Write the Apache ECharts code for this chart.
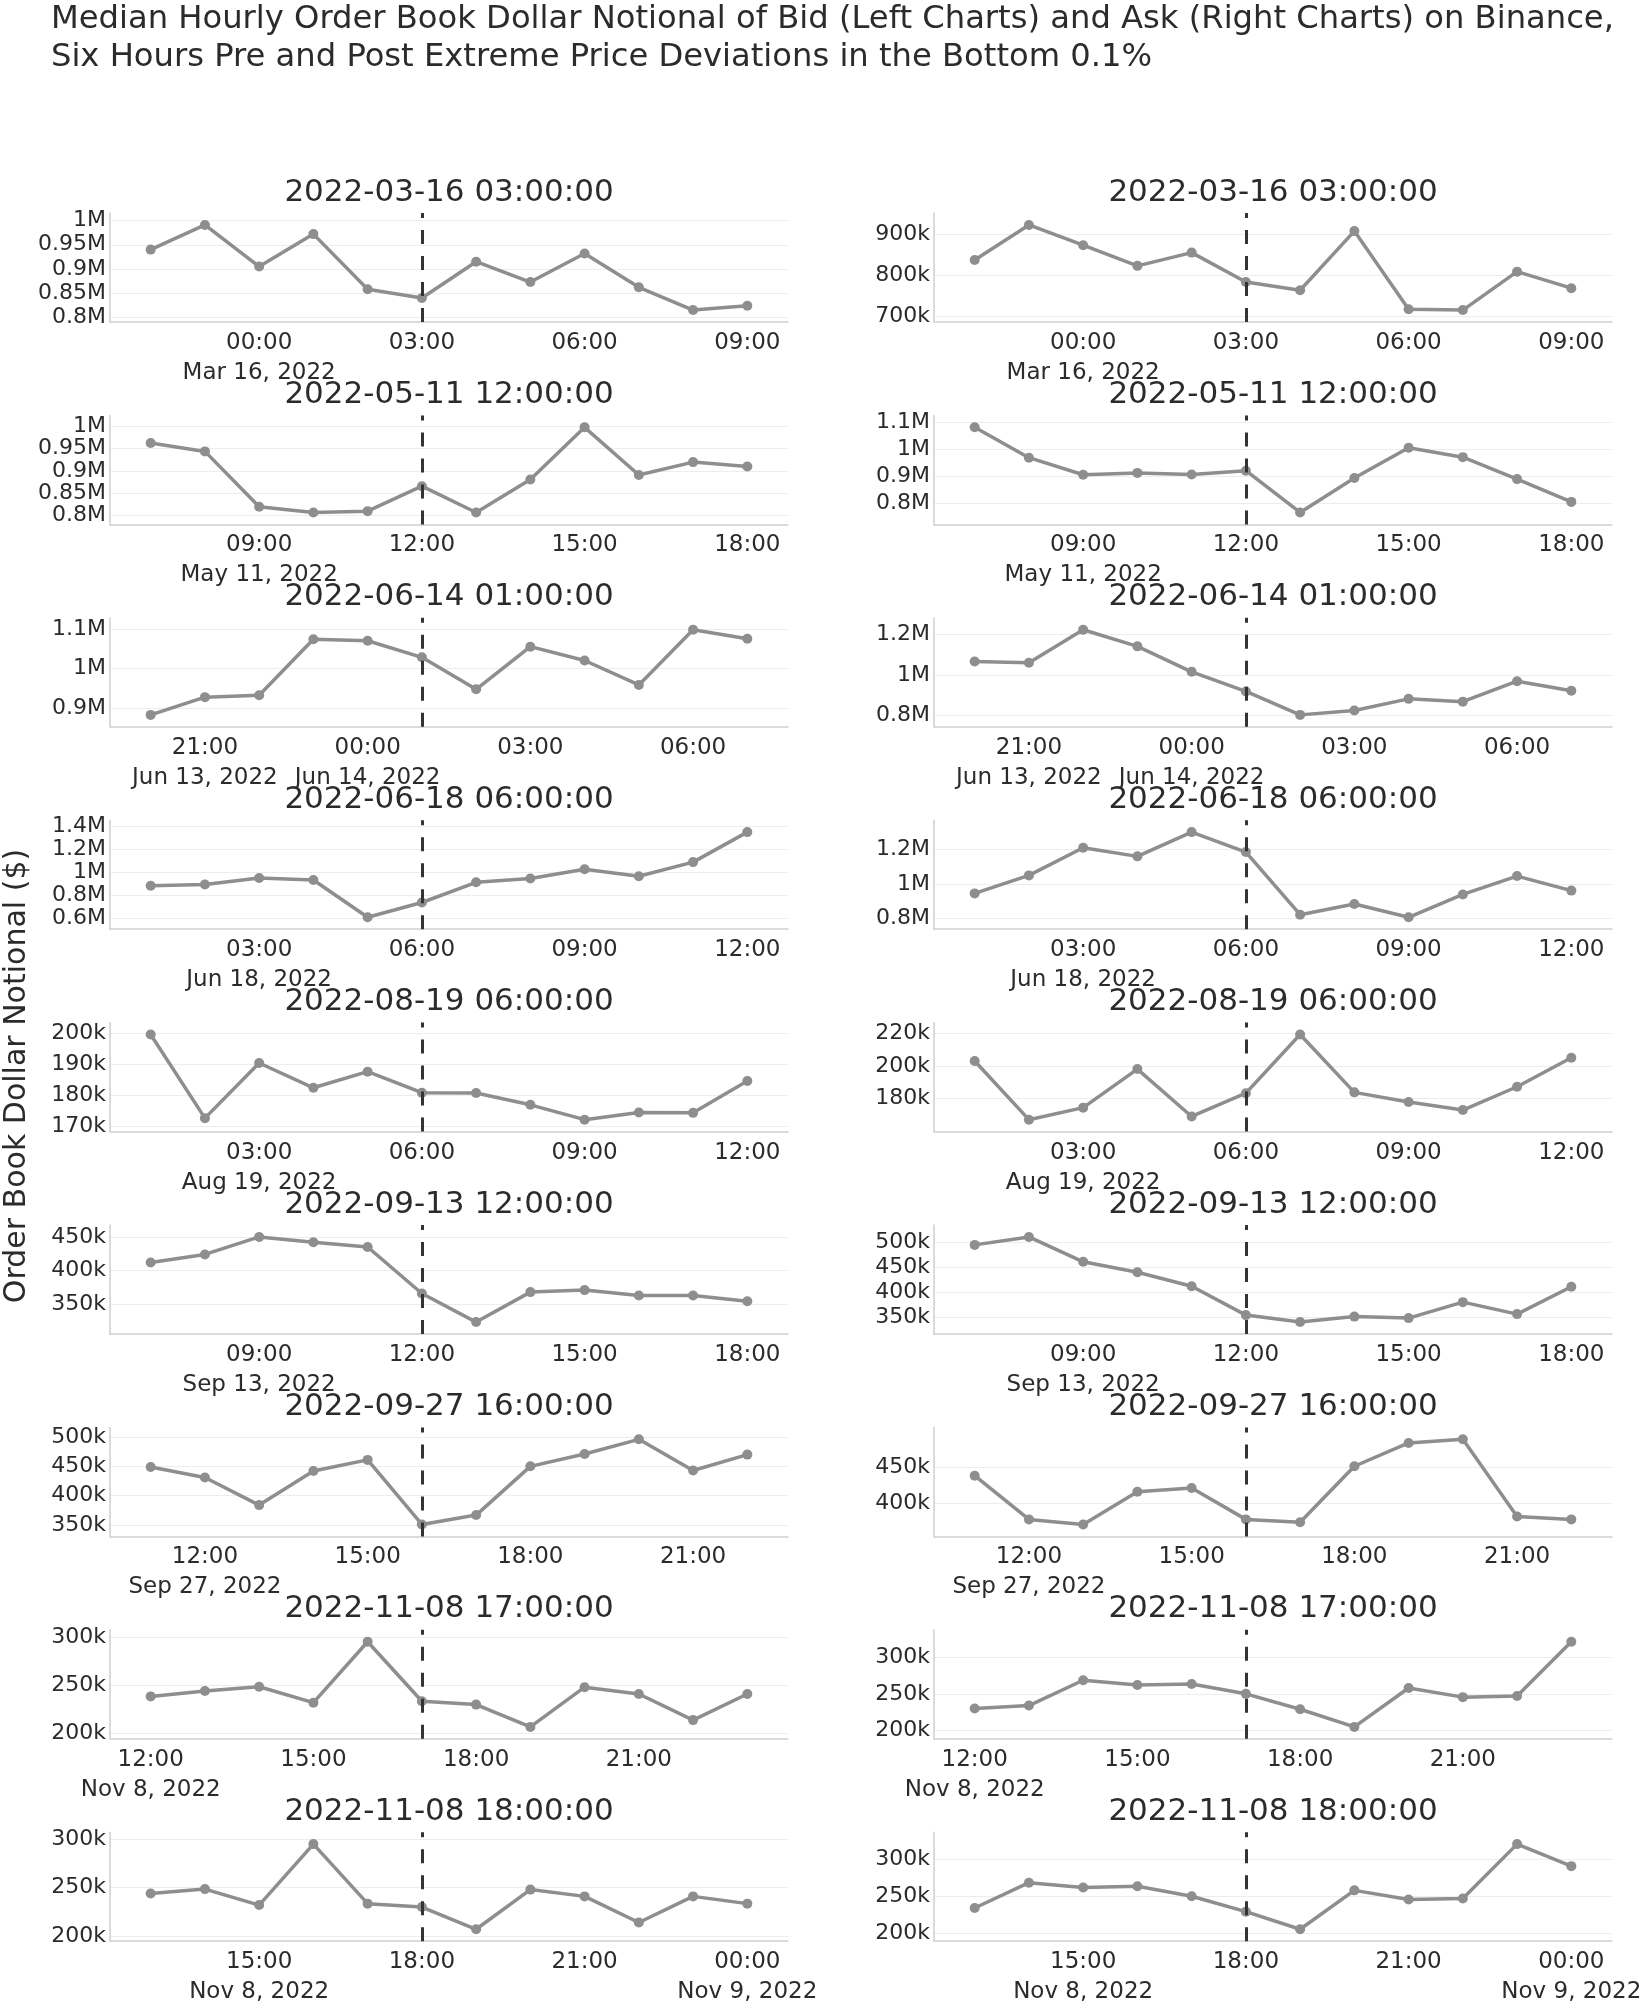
<!DOCTYPE html>
<html>
<head>
<meta charset="utf-8">
<script src="https://cdn.jsdelivr.net/npm/echarts@6/dist/echarts.min.js"></script>
<style>
html,body{margin:0;padding:0;background:#ffffff;}
#chart{width:1648px;height:2008px;}
</style>
</head>
<body>
<div id="chart"></div>
<script>
// ---------------- DATA ----------------
const mainTitleLine1 = "Median Hourly Order Book Dollar Notional of Bid (Left Charts) and Ask (Right Charts) on Binance,";
const mainTitleLine2 = "Six Hours Pre and Post Extreme Price Deviations in the Bottom 0.1%";
const yAxisTitle = "Order Book Dollar Notional ($)";

const eventTimes = [
  "2022-03-16 03:00:00",
  "2022-05-11 12:00:00",
  "2022-06-14 01:00:00",
  "2022-06-18 06:00:00",
  "2022-08-19 06:00:00",
  "2022-09-13 12:00:00",
  "2022-09-27 16:00:00",
  "2022-11-08 17:00:00",
  "2022-11-08 18:00:00"
];

// hours relative to the event for each point
const hourOffsets = [-5, -4, -3, -2, -1, 0, 1, 2, 3, 4, 5, 6];

// Bid (left column)
const bid_20220316 = [940000, 991000, 905000, 972000, 858000, 840000, 915000, 873000, 932000, 862000, 815000, 824000];
const bid_20220511 = [963000, 944000, 820000, 807000, 810000, 866000, 807000, 881000, 998000, 891000, 920000, 910000];
const bid_20220614 = [882000, 927000, 932000, 1074000, 1070000, 1028000, 947000, 1055000, 1020000, 958000, 1098000, 1075000];
const bid_20220618 = [885000, 896000, 953000, 935000, 612000, 740000, 915000, 948000, 1028000, 968000, 1090000, 1350000];
const bid_20220819 = [199500, 172500, 190300, 182300, 187500, 180700, 180600, 176800, 172000, 174300, 174200, 184500];
const bid_20220913 = [412000, 424000, 450000, 442000, 435000, 366000, 323500, 368000, 371000, 363000, 363000, 354500];
const bid_20220927 = [449000, 431000, 384000, 442000, 461000, 351000, 367000, 450000, 471000, 496000, 443000, 470000];
const bid_20221108_17 = [238500, 244000, 248500, 232000, 295000, 233500, 230000, 207000, 248000, 241000, 214000, 241000];
const bid_20221108_18 = [244000, 248500, 232000, 295000, 233500, 230000, 207000, 248000, 241000, 214000, 241000, 233500];

// Ask (right column)
const ask_20220316 = [837000, 922000, 873000, 823000, 855000, 784000, 764000, 907000, 718000, 716000, 809000, 769000];
const ask_20220511 = [1080000, 968000, 905000, 912000, 906000, 920000, 766000, 893000, 1005000, 970000, 889000, 805000];
const ask_20220614 = [1066000, 1060000, 1225000, 1142000, 1015000, 917000, 800000, 822000, 880000, 866000, 968000, 920000];
const ask_20220618 = [946000, 1050000, 1210000, 1160000, 1300000, 1185000, 823000, 885000, 808000, 940000, 1046000, 962000];
const ask_20220819 = [203000, 166500, 174000, 198000, 168500, 183000, 219500, 183500, 177500, 172500, 187000, 205000];
const ask_20220913 = [495000, 511000, 461000, 440000, 412000, 354000, 340000, 351000, 348000, 380000, 356000, 411000];
const ask_20220927 = [438000, 378000, 371000, 416000, 421000, 378000, 374000, 451000, 483000, 488000, 382000, 378000];
const ask_20221108_17 = [230000, 234000, 268500, 262000, 263500, 250000, 229000, 205000, 258000, 245500, 247000, 321000];
const ask_20221108_18 = [234000, 268500, 262000, 263500, 250000, 229000, 205000, 258000, 245500, 247000, 321000, 291000];

// y tick values per panel
const yTicks_bid_20220316 = [800000, 850000, 900000, 950000, 1000000];
const yTicks_ask_20220316 = [700000, 800000, 900000];
const yTicks_bid_20220511 = [800000, 850000, 900000, 950000, 1000000];
const yTicks_ask_20220511 = [800000, 900000, 1000000, 1100000];
const yTicks_bid_20220614 = [900000, 1000000, 1100000];
const yTicks_ask_20220614 = [800000, 1000000, 1200000];
const yTicks_bid_20220618 = [600000, 800000, 1000000, 1200000, 1400000];
const yTicks_ask_20220618 = [800000, 1000000, 1200000];
const yTicks_bid_20220819 = [170000, 180000, 190000, 200000];
const yTicks_ask_20220819 = [180000, 200000, 220000];
const yTicks_bid_20220913 = [350000, 400000, 450000];
const yTicks_ask_20220913 = [350000, 400000, 450000, 500000];
const yTicks_bid_20220927 = [350000, 400000, 450000, 500000];
const yTicks_ask_20220927 = [400000, 450000];
const yTicks_bid_20221108_17 = [200000, 250000, 300000];
const yTicks_ask_20221108_17 = [200000, 250000, 300000];
const yTicks_bid_20221108_18 = [200000, 250000, 300000];
const yTicks_ask_20221108_18 = [200000, 250000, 300000];

const monthNames = ["Jan","Feb","Mar","Apr","May","Jun","Jul","Aug","Sep","Oct","Nov","Dec"];

// ---------------- PANELS ----------------
const panels = [
  [eventTimes[0], bid_20220316, yTicks_bid_20220316], [eventTimes[0], ask_20220316, yTicks_ask_20220316],
  [eventTimes[1], bid_20220511, yTicks_bid_20220511], [eventTimes[1], ask_20220511, yTicks_ask_20220511],
  [eventTimes[2], bid_20220614, yTicks_bid_20220614], [eventTimes[2], ask_20220614, yTicks_ask_20220614],
  [eventTimes[3], bid_20220618, yTicks_bid_20220618], [eventTimes[3], ask_20220618, yTicks_ask_20220618],
  [eventTimes[4], bid_20220819, yTicks_bid_20220819], [eventTimes[4], ask_20220819, yTicks_ask_20220819],
  [eventTimes[5], bid_20220913, yTicks_bid_20220913], [eventTimes[5], ask_20220913, yTicks_ask_20220913],
  [eventTimes[6], bid_20220927, yTicks_bid_20220927], [eventTimes[6], ask_20220927, yTicks_ask_20220927],
  [eventTimes[7], bid_20221108_17, yTicks_bid_20221108_17], [eventTimes[7], ask_20221108_17, yTicks_ask_20221108_17],
  [eventTimes[8], bid_20221108_18, yTicks_bid_20221108_18], [eventTimes[8], ask_20221108_18, yTicks_ask_20221108_18]
];

// ---------------- STYLE / LAYOUT ----------------
const FONT = "'DejaVu Sans', Verdana, sans-serif";
const TEXT = "#2b2b2b";
const LINE = "#8e8e8e";
const HOUR = 3600000;
const colLeft = [110, 934];
const plotW = 678, plotH = 109, rowTop0 = 213, rowPitch = 202.4;
const padFrac = 0.14;

function parseUTC(s) {
  const [d, t] = s.split(" ");
  const [Y, M, D] = d.split("-").map(Number);
  const [h, m, sec] = t.split(":").map(Number);
  return Date.UTC(Y, M - 1, D, h, m, sec);
}
function pad2(n) { return (n < 10 ? "0" : "") + n; }
function fmtY(v, useM) {
  if (useM) return (+(v / 1e6).toFixed(2)) + "M";
  return Math.round(v / 1e3) + "k";
}

const grids = [], xAxes = [], yAxes = [], series = [], graphics = [];

panels.forEach(function (p, i) {
  const row = Math.floor(i / 2), col = i % 2;
  const left = colLeft[col];
  const top = rowTop0 + row * rowPitch;
  const ev = parseUTC(p[0]);
  const vals = p[1];
  const yt = p[2];
  const useM = yt.some(v => v >= 1e6);

  grids.push({ left: left, top: top, width: plotW, height: plotH, containLabel: false, outerBoundsMode: "none" });

  const xmin = ev - 5.75 * HOUR, xmax = ev + 6.75 * HOUR;
  const xt = [];
  for (let t = Math.ceil(xmin / (3 * HOUR)) * 3 * HOUR; t <= xmax; t += 3 * HOUR) xt.push(t);
  const firstTick = xt[0];

  xAxes.push({
    gridIndex: i, type: "value", min: xmin, max: xmax,
    axisLine: { show: true, onZero: false, lineStyle: { color: "#cfcfcf", width: 1.5 } },
    axisTick: { show: false, customValues: xt },
    splitLine: { show: false },
    axisLabel: {
      customValues: xt, margin: 6, interval: 0, showMinLabel: true, showMaxLabel: true, hideOverlap: false,
      color: TEXT, fontFamily: FONT, fontSize: 23, lineHeight: 30, align: "center",
      formatter: function (v) {
        const d = new Date(v);
        let s = pad2(d.getUTCHours()) + ":" + pad2(d.getUTCMinutes());
        if (Math.abs(v - firstTick) < 1 || d.getUTCHours() === 0) {
          s += "\n" + monthNames[d.getUTCMonth()] + " " + d.getUTCDate() + ", " + d.getUTCFullYear();
        }
        return s;
      }
    }
  });

  const dmin = Math.min.apply(null, vals), dmax = Math.max.apply(null, vals);
  const pad = (dmax - dmin) * padFrac;
  yAxes.push({
    gridIndex: i, type: "value", min: dmin - pad, max: dmax + pad,
    axisLine: { show: true, onZero: false, lineStyle: { color: "#cfcfcf", width: 1.5 } },
    axisTick: { show: false, customValues: yt },
    splitLine: { show: true, lineStyle: { color: "#ededed", width: 1 } },
    axisLabel: {
      customValues: yt, margin: 4, interval: 0, showMinLabel: true, showMaxLabel: true, hideOverlap: false,
      color: TEXT, fontFamily: FONT, fontSize: 22, lineHeight: 17,
      formatter: function (v) { return fmtY(v, useM); }
    }
  });

  series.push({
    type: "line", xAxisIndex: i, yAxisIndex: i,
    data: hourOffsets.map(function (h, k) { return [ev + h * HOUR, vals[k]]; }),
    symbol: "circle", symbolSize: 10, showSymbol: true,
    lineStyle: { color: LINE, width: 3.5 },
    itemStyle: { color: LINE },
    silent: true, animation: false,
    markLine: {
      silent: true, animation: false, symbol: ["none", "none"],
      label: { show: false },
      data: [{ xAxis: ev, lineStyle: { color: "#333333", width: 3, type: [14, 12] } }]
    }
  });

  graphics.push({
    type: "text", x: left + plotW / 2, y: top - 20.5,
    style: { text: p[0], font: "31px " + FONT, fill: TEXT, textAlign: "center", textVerticalAlign: "middle" }
  });
});

graphics.push({ type: "text", x: 51, y: 20,
  style: { text: mainTitleLine1, font: "32.2px " + FONT, fill: TEXT, textAlign: "left", textVerticalAlign: "middle" } });
graphics.push({ type: "text", x: 51, y: 58,
  style: { text: mainTitleLine2, font: "32.2px " + FONT, fill: TEXT, textAlign: "left", textVerticalAlign: "middle" } });
graphics.push({ type: "text", x: 17, y: 1076, rotation: Math.PI / 2,
  style: { text: yAxisTitle, font: "30px " + FONT, fill: TEXT, textAlign: "center", textVerticalAlign: "middle" } });

const chart = echarts.init(document.getElementById("chart"), null, { renderer: "canvas" });
chart.setOption({
  backgroundColor: "#ffffff",
  animation: false,
  grid: grids,
  xAxis: xAxes,
  yAxis: yAxes,
  series: series,
  graphic: graphics
});
</script>
</body>
</html>
